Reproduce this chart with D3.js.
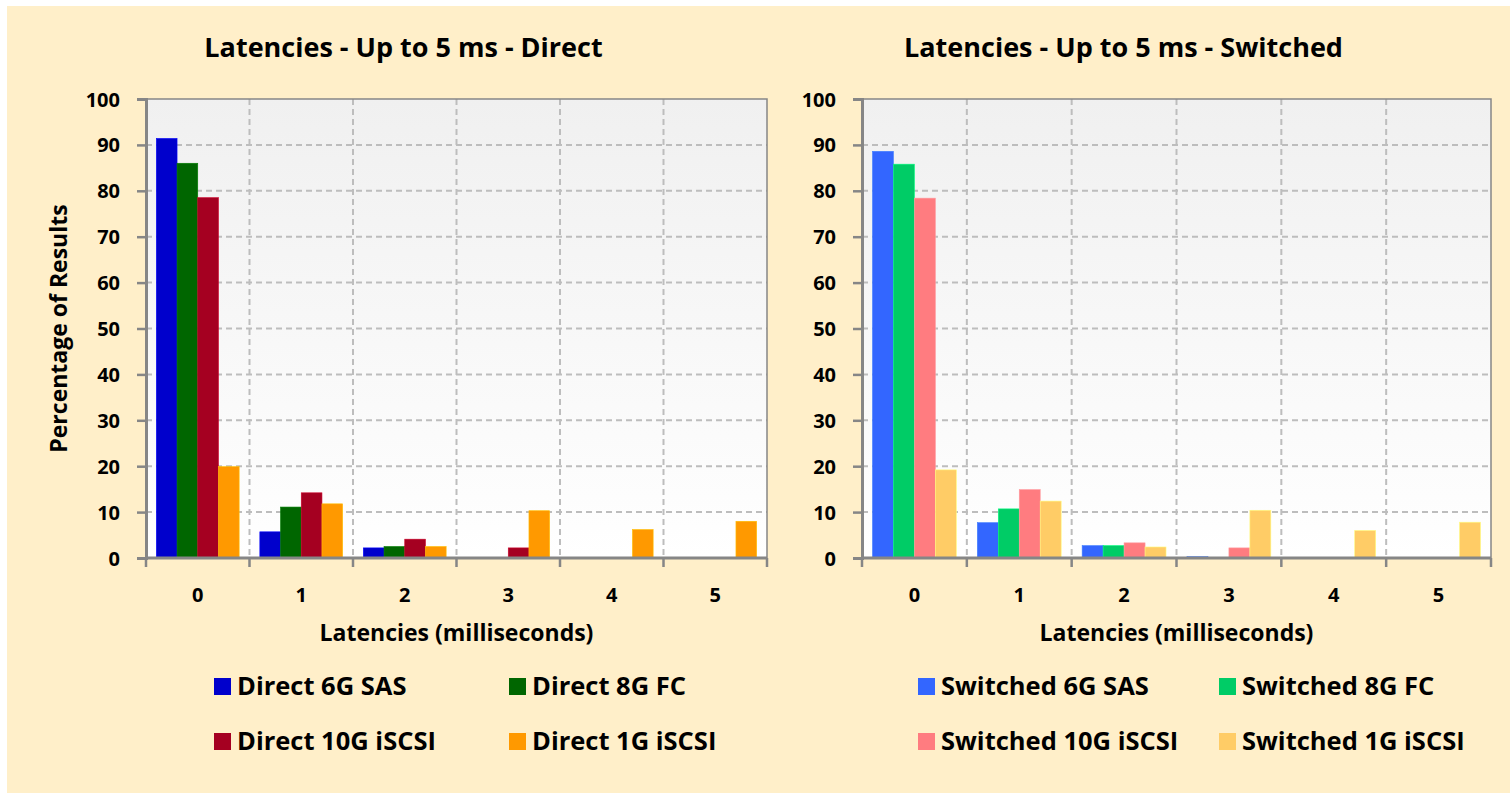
<!DOCTYPE html>
<html>
<head>
<meta charset="utf-8">
<script src="https://cdn.jsdelivr.net/npm/d3@7"></script>
<style>
  body { margin: 0; background: #fff; }
  svg text { font-family: "Open Sans", Lato, sans-serif; font-weight: bold; fill: #000; }
</style>
</head>
<body>
<svg id="chart" width="1510" height="793"></svg>
<script>
var categories = ["0", "1", "2", "3", "4", "5"];
var yTicks = [0, 10, 20, 30, 40, 50, 60, 70, 80, 90, 100];

var directSeries = ["Direct 6G SAS", "Direct 8G FC", "Direct 10G iSCSI", "Direct 1G iSCSI"];
var directColors = ["#0000CC", "#006600", "#A50021", "#FF9900"];
var direct6gSas = [91.4, 5.7, 2.2, 0, 0, 0];
var direct8gFc = [86.0, 11.1, 2.5, 0, 0, 0];
var direct10gIscsi = [78.5, 14.2, 4.1, 2.2, 0.15, 0];
var direct1gIscsi = [19.9, 11.8, 2.5, 10.3, 6.2, 8.0];

var switchedSeries = ["Switched 6G SAS", "Switched 8G FC", "Switched 10G iSCSI", "Switched 1G iSCSI"];
var switchedColors = ["#3366FF", "#00CC66", "#FF7C80", "#FFCC66"];
var switched6gSas = [88.6, 7.7, 2.7, 0.3, 0, 0];
var switched8gFc = [85.8, 10.7, 2.7, 0, 0, 0];
var switched10gIscsi = [78.4, 14.9, 3.3, 2.2, 0.15, 0];
var switched1gIscsi = [19.2, 12.4, 2.4, 10.4, 6.0, 7.8];

var svg = d3.select("#chart");

svg.append("rect")
    .attr("x", 7).attr("y", 6)
    .attr("width", 1503).attr("height", 787)
    .attr("fill", "#FFEFC9");

var defs = svg.append("defs");
var grad = defs.append("linearGradient")
    .attr("id", "plotbg")
    .attr("x1", 0).attr("y1", 0).attr("x2", 0).attr("y2", 1);
grad.append("stop").attr("offset", "0%").attr("stop-color", "#F0F0F0");
grad.append("stop").attr("offset", "100%").attr("stop-color", "#FFFFFF");

function drawChart(opts) {
    var left = opts.left, right = opts.right, top = 99, bottom = 558;

    var x = d3.scaleBand()
        .domain(categories)
        .range([left, right])
        .paddingInner(0.2)
        .paddingOuter(0.1);

    var y = d3.scaleLinear().domain([0, 100]).range([bottom, top]);

    var g = svg.append("g");

    // plot area
    g.append("rect")
        .attr("x", left).attr("y", top)
        .attr("width", right - left).attr("height", bottom - top)
        .attr("fill", "url(#plotbg)");

    // horizontal grid
    g.selectAll(".hgrid")
        .data(yTicks.filter(function(d) { return d > 0 && d < 100; }))
        .enter().append("line")
        .attr("x1", left).attr("x2", right)
        .attr("y1", function(d) { return y(d); })
        .attr("y2", function(d) { return y(d); })
        .attr("stroke", "#BDBDBD")
        .attr("stroke-width", 2)
        .attr("stroke-dasharray", "6,4");

    // vertical grid at category boundaries
    var step = x.step();
    g.selectAll(".vgrid")
        .data(d3.range(1, categories.length))
        .enter().append("line")
        .attr("x1", function(d) { return left + d * step; })
        .attr("x2", function(d) { return left + d * step; })
        .attr("y1", top).attr("y2", bottom)
        .attr("stroke", "#BDBDBD")
        .attr("stroke-width", 2)
        .attr("stroke-dasharray", "6,4");

    // bars
    var x1 = d3.scaleBand()
        .domain(d3.range(opts.values.length))
        .range([0, x.bandwidth()]);

    opts.values.forEach(function(vals, s) {
        g.selectAll(".bar" + s)
            .data(vals)
            .enter().append("rect")
            .attr("x", function(d, k) { return x(categories[k]) + x1(s); })
            .attr("y", function(d) { return y(d); })
            .attr("width", x1.bandwidth())
            .attr("height", function(d) { return bottom - y(d); })
            .attr("fill", opts.colors[s])
            .attr("stroke", d3.color(opts.colors[s]).brighter(0.6))
            .attr("stroke-width", 0.6);
    });

    // frame
    g.append("rect")
        .attr("x", left).attr("y", top)
        .attr("width", right - left).attr("height", bottom - top)
        .attr("fill", "none")
        .attr("stroke", "#868686")
        .attr("stroke-width", 1.5);

    // y axis
    var yAxis = d3.axisLeft(y).tickValues(yTicks).tickSize(9).tickPadding(17);
    var ya = g.append("g").attr("transform", "translate(" + left + ",0)").call(yAxis);
    ya.select(".domain").attr("stroke", "#868686").attr("stroke-width", 3);
    ya.selectAll(".tick line").attr("stroke", "#868686").attr("stroke-width", 2.5);
    ya.selectAll(".tick text").style("font-size", "20px").attr("dy", "0.35em");

    // x axis: ticks at category boundaries, labels centred in each band
    var xa = g.append("g");
    xa.append("line")
        .attr("x1", left).attr("x2", right)
        .attr("y1", bottom).attr("y2", bottom)
        .attr("stroke", "#868686").attr("stroke-width", 3);
    xa.selectAll(".xtick")
        .data(d3.range(0, categories.length + 1))
        .enter().append("line")
        .attr("x1", function(d) { return left + d * step; })
        .attr("x2", function(d) { return left + d * step; })
        .attr("y1", bottom).attr("y2", bottom + 9)
        .attr("stroke", "#868686").attr("stroke-width", 2.5);
    xa.selectAll(".xlabel")
        .data(categories)
        .enter().append("text")
        .attr("x", function(d) { return x(d) + x.bandwidth() / 2; })
        .attr("y", 602)
        .attr("text-anchor", "middle")
        .style("font-size", "20px")
        .text(function(d) { return d; });

    // titles
    g.append("text")
        .attr("x", (left + right) / 2 - 53)
        .attr("y", 57)
        .attr("text-anchor", "middle")
        .style("font-size", "27px")
        .text(opts.title);

    g.append("text")
        .attr("x", (left + right) / 2)
        .attr("y", 641)
        .attr("text-anchor", "middle")
        .style("font-size", "23px")
        .text("Latencies (milliseconds)");

    if (opts.yTitle) {
        g.append("text")
            .attr("transform", "translate(67," + (top + bottom) / 2 + ") rotate(-90)")
            .attr("text-anchor", "middle")
            .style("font-size", "23px")
            .text(opts.yTitle);
    }

    // legend
    var lg = g.append("g");
    opts.series.forEach(function(name, k) {
        var lx = opts.legendX[k % 2], ly = 678 + Math.floor(k / 2) * 55;
        lg.append("rect")
            .attr("x", lx).attr("y", ly)
            .attr("width", 17).attr("height", 17)
            .attr("fill", opts.colors[k]);
        lg.append("text")
            .attr("x", lx + 23).attr("y", ly + 17)
            .style("font-size", "25.5px")
            .text(name);
    });
}

drawChart({
    left: 146, right: 767,
    title: "Latencies - Up to 5 ms - Direct",
    yTitle: "Percentage of Results",
    series: directSeries,
    colors: directColors,
    values: [direct6gSas, direct8gFc, direct10gIscsi, direct1gIscsi],
    legendX: [214, 509]
});

drawChart({
    left: 862, right: 1491,
    title: "Latencies - Up to 5 ms - Switched",
    series: switchedSeries,
    colors: switchedColors,
    values: [switched6gSas, switched8gFc, switched10gIscsi, switched1gIscsi],
    legendX: [918, 1219]
});
</script>
</body>
</html>
